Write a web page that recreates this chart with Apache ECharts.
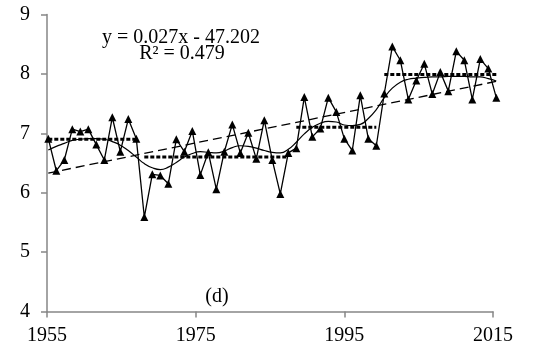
<!DOCTYPE html>
<html>
<head>
<meta charset="utf-8">
<script src="https://cdn.jsdelivr.net/npm/echarts@6/dist/echarts.min.js"></script>
<style>
  html, body { margin: 0; padding: 0; background: #fff; }
  #chart { width: 559px; height: 354px; }
</style>
</head>
<body>
<div id="chart"></div>
<script>
// 年份 1955-2011
const startYear = 1955;
const values = [
  6.91, 6.37, 6.55, 7.07, 7.03, 7.07, 6.81, 6.55, 7.27, 6.69, 7.24, 6.91,
  5.59, 6.31, 6.29, 6.15, 6.90, 6.69, 7.04, 6.30, 6.68, 6.06, 6.69, 7.15,
  6.67, 7.01, 6.57, 7.22, 6.55, 5.98, 6.67,
  6.75, 7.61, 6.94, 7.08, 7.60, 7.36, 6.91, 6.71, 7.64, 6.91, 6.79,
  7.67, 8.46, 8.23, 7.57, 7.89, 8.17, 7.66, 8.03, 7.71, 8.38, 8.23, 7.57,
  8.25, 8.09, 7.60
];
// 平滑曲线
const smoothValues = [
  6.72, 6.78, 6.83, 6.88, 6.90, 6.91, 6.91, 6.90, 6.86, 6.80, 6.71, 6.60,
  6.49, 6.42, 6.39, 6.43, 6.51, 6.60, 6.66, 6.69, 6.68, 6.67, 6.70, 6.76,
  6.79, 6.78, 6.75, 6.71, 6.68, 6.67, 6.73, 6.85, 6.99, 7.10, 7.17, 7.20,
  7.19, 7.14, 7.13, 7.15, 7.25, 7.40, 7.60, 7.76, 7.86, 7.91, 7.93, 7.94,
  7.95, 7.95, 7.96, 7.96, 7.96, 7.95, 7.95, 7.92, 7.88
];
// 分段均值
const segStart = [1955, 1967, 1986, 1997];
const segEnd = [1966, 1985, 1996, 2011];
const segMean = [6.90, 6.60, 7.10, 7.99];
const xTicks = [1955, 1975, 1995, 2015];

const years = values.map((v, i) => startYear + i);
const serif = "Liberation Serif";

// 线性趋势
const n = values.length;
const mx = years.reduce((a, b) => a + b, 0) / n;
const my = values.reduce((a, b) => a + b, 0) / n;
let sxy = 0, sxx = 0;
years.forEach((x, i) => {
  sxy += (x - mx) * (values[i] - my);
  sxx += (x - mx) * (x - mx);
});
const slope = sxy / sxx;
const icpt = my - slope * mx;
const trendData = [years[0], years[n - 1]].map(x => [x, icpt + slope * x]);

const chart = echarts.init(document.getElementById('chart'));

const stepSeries = segMean.map((m, i) => ({
  type: 'line',
  xAxisIndex: 1,
  yAxisIndex: 1,
  symbol: 'none',
  lineStyle: { color: '#000', width: 3, type: [4, 2] },
  data: [[segStart[i], m], [segEnd[i], m]],
  z: 3
}));

const option = {
  animation: false,
  grid: [
    { left: 47, right: 66, top: 14.5, bottom: 42.5 },
    { left: 48.3, right: 62.7, top: 14.5, bottom: 42.5 }
  ],
  xAxis: [
    {
      type: 'value',
      gridIndex: 0,
      min: xTicks[0],
      max: xTicks[xTicks.length - 1],
      interval: 20,
      axisLine: { show: true, lineStyle: { color: '#868686', width: 1.5 } },
      axisTick: { show: true, length: 6, lineStyle: { color: '#868686', width: 1.5 } },
      axisLabel: {
        color: '#000', fontFamily: serif, fontSize: 20, margin: 14,
        formatter: v => String(v)
      },
      splitLine: { show: false }
    },
    {
      type: 'value',
      gridIndex: 1,
      min: years[0],
      max: years[n - 1],
      show: false
    }
  ],
  yAxis: [
    {
      type: 'value',
      gridIndex: 0,
      min: 4,
      max: 9,
      interval: 1,
      axisLine: { show: true, lineStyle: { color: '#868686', width: 1.5 } },
      axisTick: { show: true, length: 6, lineStyle: { color: '#868686', width: 1.5 } },
      axisLabel: { color: '#000', fontFamily: serif, fontSize: 20, margin: 17 },
      splitLine: { show: false }
    },
    {
      type: 'value',
      gridIndex: 1,
      min: 4,
      max: 9,
      show: false
    }
  ],
  series: [
    {
      type: 'line',
      xAxisIndex: 1,
      yAxisIndex: 1,
      symbol: 'none',
      lineStyle: { color: '#000', width: 1.3, type: [9, 5] },
      data: trendData,
      z: 2
    },
    ...stepSeries,
    {
      type: 'line',
      xAxisIndex: 1,
      yAxisIndex: 1,
      smooth: true,
      symbol: 'none',
      lineStyle: { color: '#000', width: 1.2 },
      data: years.map((x, i) => [x, smoothValues[i]]),
      z: 4
    },
    {
      type: 'line',
      xAxisIndex: 1,
      yAxisIndex: 1,
      symbol: 'triangle',
      symbolSize: 8,
      itemStyle: { color: '#000' },
      lineStyle: { color: '#000', width: 1.3 },
      data: years.map((x, i) => [x, values[i]]),
      z: 5
    }
  ],
  graphic: [
    {
      type: 'text', x: 181, y: 38,
      style: { text: 'y = 0.027x - 47.202', fontFamily: serif, fontSize: 20, fill: '#000', align: 'center', verticalAlign: 'middle' }
    },
    {
      type: 'text', x: 182, y: 54,
      style: { text: 'R² = 0.479', fontFamily: serif, fontSize: 20, fill: '#000', align: 'center', verticalAlign: 'middle' }
    },
    {
      type: 'text', x: 217, y: 297,
      style: { text: '(d)', fontFamily: serif, fontSize: 20, fill: '#000', align: 'center', verticalAlign: 'middle' }
    }
  ]
};

chart.setOption(option);
</script>
</body>
</html>
